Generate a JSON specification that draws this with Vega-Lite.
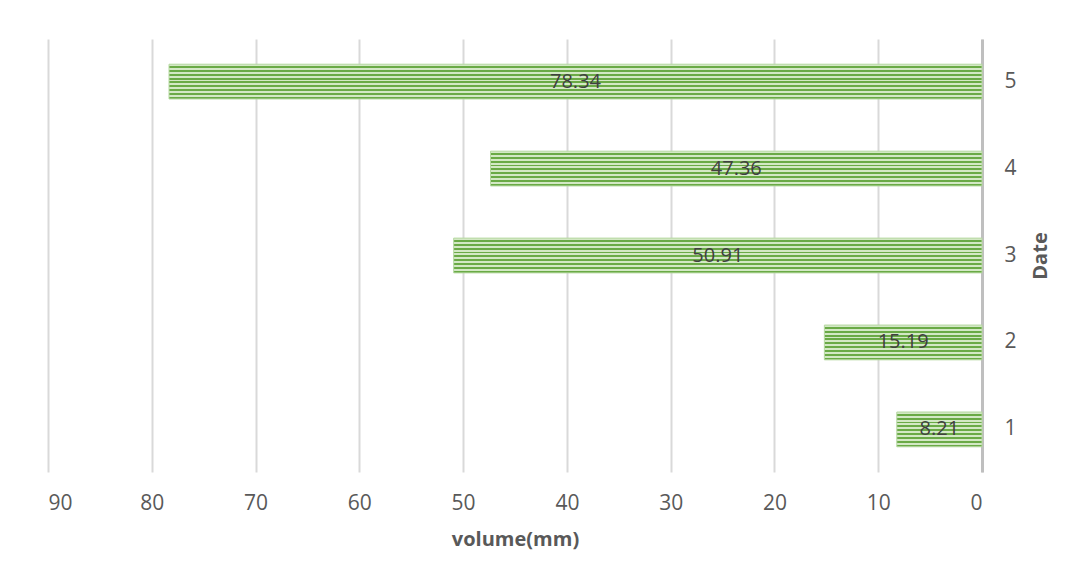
{
  "$schema": "https://vega.github.io/schema/vega-lite/v6.json",
  "autosize": "none",
  "width": 934,
  "height": 433,
  "padding": {"left": 48, "top": 39, "right": 94, "bottom": 109},
  "background": "white",
  "data": {"values": [
    {"date": "1", "volume": 8.21},
    {"date": "2", "volume": 15.19},
    {"date": "3", "volume": 50.91},
    {"date": "4", "volume": 47.36},
    {"date": "5", "volume": 78.34}
  ]},
  "config": {
    "view": {"stroke": null},
    "font": "Open Sans"
  },
  "encoding": {
    "y": {
      "field": "date", "type": "ordinal", "sort": "descending",
      "scale": {"paddingInner": 0.6, "paddingOuter": 0.29},
      "axis": {
        "orient": "right", "title": "Date", "titleFontSize": 20, "titleFontWeight": "bold",
        "titleColor": "#595959", "titleAngle": -90, "titleBaseline": "top", "titlePadding": 14,
        "labelFontSize": 21, "labelColor": "#595959", "labelPadding": 22, "labelAngle": 0,
        "ticks": false, "domainColor": "#bfbfbf", "domainWidth": 3, "grid": false
      }
    }
  },
  "layer": [
    {
      "mark": {
        "type": "bar",
        "stroke": "#b5d8a0",
        "strokeWidth": 1,
        "fill": {
          "gradient": "linear", "x1": 0, "y1": 0, "x2": 0, "y2": 1,
          "stops": [
            {"offset": 0.0, "color": "#d3e8c5"}, {"offset": 0.055, "color": "#d3e8c5"},
            {"offset": 0.055, "color": "#6aaa46"}, {"offset": 0.11, "color": "#6aaa46"},
            {"offset": 0.11, "color": "#d3e8c5"}, {"offset": 0.165, "color": "#d3e8c5"},
            {"offset": 0.165, "color": "#6aaa46"}, {"offset": 0.22, "color": "#6aaa46"},
            {"offset": 0.22, "color": "#d3e8c5"}, {"offset": 0.275, "color": "#d3e8c5"},
            {"offset": 0.275, "color": "#6aaa46"}, {"offset": 0.33, "color": "#6aaa46"},
            {"offset": 0.33, "color": "#d3e8c5"}, {"offset": 0.385, "color": "#d3e8c5"},
            {"offset": 0.385, "color": "#6aaa46"}, {"offset": 0.44, "color": "#6aaa46"},
            {"offset": 0.44, "color": "#d3e8c5"}, {"offset": 0.495, "color": "#d3e8c5"},
            {"offset": 0.495, "color": "#6aaa46"}, {"offset": 0.55, "color": "#6aaa46"},
            {"offset": 0.55, "color": "#d3e8c5"}, {"offset": 0.605, "color": "#d3e8c5"},
            {"offset": 0.605, "color": "#6aaa46"}, {"offset": 0.66, "color": "#6aaa46"},
            {"offset": 0.66, "color": "#d3e8c5"}, {"offset": 0.715, "color": "#d3e8c5"},
            {"offset": 0.715, "color": "#6aaa46"}, {"offset": 0.77, "color": "#6aaa46"},
            {"offset": 0.77, "color": "#d3e8c5"}, {"offset": 0.825, "color": "#d3e8c5"},
            {"offset": 0.825, "color": "#6aaa46"}, {"offset": 0.88, "color": "#6aaa46"},
            {"offset": 0.88, "color": "#d3e8c5"}, {"offset": 0.935, "color": "#d3e8c5"},
            {"offset": 0.935, "color": "#6aaa46"}, {"offset": 1.0, "color": "#6aaa46"}
          ]
        }
      },
      "encoding": {
        "x": {
          "field": "volume", "type": "quantitative",
          "scale": {"domain": [0, 90], "reverse": true, "nice": false},
          "axis": {
            "title": "volume(mm)", "titleFontSize": 20, "titleFontWeight": "bold",
            "titleColor": "#595959", "titlePadding": 16,
            "values": [0, 10, 20, 30, 40, 50, 60, 70, 80, 90],
            "labelFontSize": 21, "labelColor": "#595959", "labelPadding": 20,
            "ticks": false, "domain": false,
            "grid": true, "gridColor": "#d9d9d9", "gridWidth": 2
          }
        }
      }
    },
    {
      "transform": [{"calculate": "datum.volume / 2", "as": "mid"}],
      "mark": {"type": "text", "fontSize": 20, "color": "#404040", "baseline": "middle", "align": "center"},
      "encoding": {
        "x": {"field": "mid", "type": "quantitative"},
        "text": {"field": "volume", "type": "quantitative", "format": ".2f"}
      }
    }
  ]
}
